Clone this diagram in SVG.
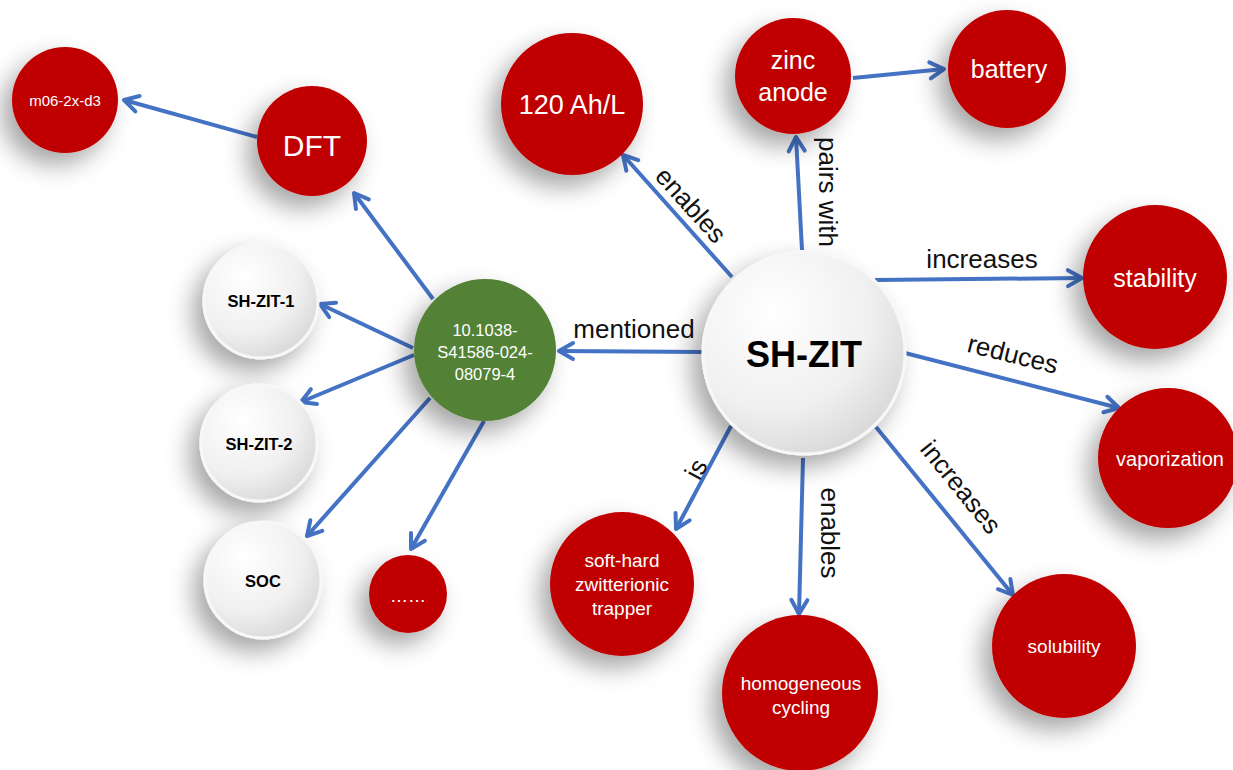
<svg xmlns="http://www.w3.org/2000/svg" width="1233" height="770" viewBox="0 0 1233 770">
<defs>
<filter id="sh" x="-60%" y="-60%" width="220%" height="220%">
<feDropShadow dx="-10" dy="12" stdDeviation="12" flood-color="#000" flood-opacity="0.35"/>
</filter>
<radialGradient id="gray" cx="0.35" cy="0.3" r="0.8">
<stop offset="0" stop-color="#ffffff"/>
<stop offset="0.6" stop-color="#f0f0f0"/>
<stop offset="1" stop-color="#d4d4d4"/>
</radialGradient>
<marker id="ah" viewBox="-4 -12 24 24" refX="14" refY="0" markerWidth="24" markerHeight="24" markerUnits="userSpaceOnUse" orient="auto">
<path d="M0,-8 L14,0 L0,8" fill="none" stroke="#4472C4" stroke-width="4" stroke-linecap="round" stroke-linejoin="round"/>
</marker>
</defs>
<style>
.red{fill:#C00000;filter:url(#sh)}
.grn{fill:#538135;filter:url(#sh)}
.gry{fill:url(#gray);stroke:#f7f7f7;stroke-width:3;filter:url(#sh)}
.wt{fill:#fff;font-family:"Liberation Sans",Arial,sans-serif;text-anchor:middle;dominant-baseline:central}
.bk{fill:#000;font-family:"Liberation Sans",Arial,sans-serif;text-anchor:middle;dominant-baseline:central}
.lbl{fill:#111;font-family:"Liberation Sans",Arial,sans-serif;font-size:26px;text-anchor:middle;dominant-baseline:central}
.e{stroke:#4472C4;stroke-width:4;fill:none;marker-end:url(#ah)}
</style>
<rect width="1233" height="770" fill="#fff"/>
<g id="connectors">
<line class="e" x1="732" y1="277" x2="623" y2="155"/>
<line class="e" x1="802" y1="250" x2="796" y2="137"/>
<line class="e" x1="853" y1="78" x2="944" y2="69"/>
<line class="e" x1="875" y1="280" x2="1082" y2="278"/>
<line class="e" x1="905" y1="353" x2="1119" y2="408"/>
<line class="e" x1="876" y1="427" x2="1013" y2="595"/>
<line class="e" x1="803" y1="458" x2="799" y2="614"/>
<line class="e" x1="731" y1="426" x2="676" y2="529"/>
<line class="e" x1="703" y1="352" x2="559" y2="351"/>
<line class="e" x1="433" y1="299" x2="354" y2="193"/>
<line class="e" x1="257" y1="137" x2="124" y2="100"/>
<line class="e" x1="413" y1="348" x2="320" y2="304"/>
<line class="e" x1="414" y1="355" x2="301" y2="402"/>
<line class="e" x1="430" y1="398" x2="307" y2="536"/>
<line class="e" x1="484" y1="421" x2="411" y2="549"/>
<text class="lbl" transform="translate(691,205) rotate(48)">enables</text>
<text class="lbl" transform="translate(828,192) rotate(90)">pairs with</text>
<text class="lbl" x="982" y="259">increases</text>
<text class="lbl" transform="translate(1013,354) rotate(14)">reduces</text>
<text class="lbl" transform="translate(961,487) rotate(51)">increases</text>
<text class="lbl" transform="translate(830,533) rotate(90)">enables</text>
<text class="lbl" transform="translate(696,469) rotate(-62)">is</text>
<text class="lbl" x="634" y="329">mentioned</text>
</g>
<g id="n-shzit"><circle class="gry" cx="804" cy="353" r="101"/><text class="bk" x="804" y="354" font-size="36" font-weight="bold">SH-ZIT</text></g>
<g id="n-doi"><circle class="grn" cx="485" cy="350" r="71"/><text class="wt" font-size="16.5"><tspan x="485" y="330">10.1038-</tspan><tspan x="485" y="352">S41586-024-</tspan><tspan x="485" y="374">08079-4</tspan></text></g>
<g id="n-shzit1"><circle class="gry" cx="261" cy="301" r="57"/><text class="bk" x="261" y="301" font-size="16.5" font-weight="bold">SH-ZIT-1</text></g>
<g id="n-shzit2"><circle class="gry" cx="259" cy="443" r="58"/><text class="bk" x="259" y="444" font-size="16.5" font-weight="bold">SH-ZIT-2</text></g>
<g id="n-soc"><circle class="gry" cx="263" cy="580" r="58"/><text class="bk" x="263" y="581" font-size="16.5" font-weight="bold">SOC</text></g>
<g id="n-more"><circle class="red" cx="408" cy="594" r="39"/><text class="wt" x="408" y="596" font-size="18">……</text></g>
<g id="n-m06"><circle class="red" cx="65" cy="100" r="53"/><text class="wt" x="65" y="100" font-size="15">m06-2x-d3</text></g>
<g id="n-dft"><circle class="red" cx="312" cy="141" r="55"/><text class="wt" x="312" y="145" font-size="30">DFT</text></g>
<g id="n-120"><circle class="red" cx="572" cy="104" r="71"/><text class="wt" x="572" y="105" font-size="27">120 Ah/L</text></g>
<g id="n-zinc"><circle class="red" cx="793" cy="76" r="58"/><text class="wt" font-size="25"><tspan x="793" y="60">zinc</tspan><tspan x="793" y="92">anode</tspan></text></g>
<g id="n-battery"><circle class="red" cx="1007" cy="69" r="59"/><text class="wt" x="1009" y="69" font-size="25">battery</text></g>
<g id="n-stability"><circle class="red" cx="1155" cy="277" r="72"/><text class="wt" x="1155" y="278" font-size="25">stability</text></g>
<g id="n-vapor"><circle class="red" cx="1168" cy="458" r="70"/><text class="wt" x="1170" y="459" font-size="20">vaporization</text></g>
<g id="n-solub"><circle class="red" cx="1064" cy="646" r="72"/><text class="wt" x="1064" y="646" font-size="19">solubility</text></g>
<g id="n-homo"><circle class="red" cx="800" cy="693" r="78"/><text class="wt" font-size="19"><tspan x="801" y="683">homogeneous</tspan><tspan x="801" y="707">cycling</tspan></text></g>
<g id="n-soft"><circle class="red" cx="622" cy="584" r="72"/><text class="wt" font-size="19"><tspan x="622" y="560">soft-hard</tspan><tspan x="622" y="584">zwitterionic</tspan><tspan x="622" y="608">trapper</tspan></text></g>
</svg>
